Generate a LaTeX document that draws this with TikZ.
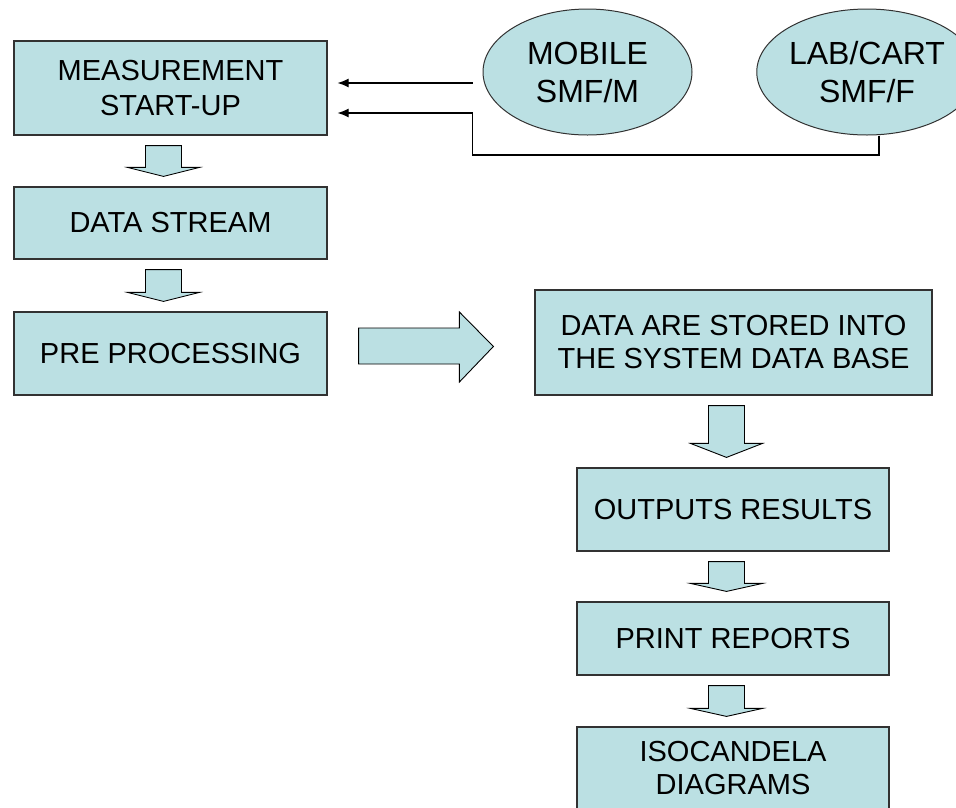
\documentclass[tikz,border=0pt]{standalone}
\usepackage{fontspec}
\setmainfont{Liberation Sans}
\usetikzlibrary{shapes.geometric,calc,arrows.meta}
\definecolor{boxfill}{RGB}{187,224,227}
\definecolor{boxline}{RGB}{50,50,50}
\newcommand\blkdown[4]{%
  \path[blk] let \p1=($(#1.south)+(#3,0)$), \p2=(#2.north) in
   ({\x1-18pt},{\y1-10pt}) -- ({\x1+18pt},{\y1-10pt}) --
   ({\x1+18pt},{\y2+10pt+#4pt}) -- ({\x1+36pt},{\y2+10pt+#4pt}) --
   ({\x1},{\y2+10pt}) -- ({\x1-36pt},{\y2+10pt+#4pt}) --
   ({\x1-18pt},{\y2+10pt+#4pt}) -- cycle;}
\begin{document}
\begin{tikzpicture}[x=1pt,y=-1pt,
  box/.style={rectangle,draw=boxline,fill=boxfill,line width=1.2pt,inner sep=0pt,
    align=center,font=\fontsize{29}{33}\selectfont},
  oval/.style={ellipse,draw=boxline,fill=boxfill,line width=1pt,inner sep=0pt,
    align=center,font=\fontsize{32}{38}\selectfont},
  blk/.style={draw=black,fill=boxfill,line width=0.9pt,line join=miter},
  con/.style={draw=black,line width=1.1pt,-{Latex[length=11pt,width=9pt]}},
]
\useasboundingbox (0,0) rectangle (956,807);

\node[box,minimum width=313pt,minimum height=94pt,font=\fontsize{29}{35}\selectfont] (ms) at (170.5,88) {MEASUREMENT\\START-UP};
\node[box,minimum width=313pt,minimum height=72pt] (ds) at (170.5,223) {DATA STREAM};
\node[box,minimum width=313pt,minimum height=83pt] (pp) at (170.5,353.5) {PRE PROCESSING};
\node[box,minimum width=397pt,minimum height=105pt] (db) at (733.5,342.5) {DATA ARE STORED INTO\\THE SYSTEM DATA BASE};
\node[box,minimum width=312pt,minimum height=83pt] (or) at (733,509.5) {OUTPUTS RESULTS};
\node[box,minimum width=312pt,minimum height=73pt] (pr) at (733,638.5) {PRINT REPORTS};
\node[box,minimum width=312pt,minimum height=82pt] (iso) at (733,768) {ISOCANDELA\\DIAGRAMS};

\node[oval,minimum width=209pt,minimum height=126pt] (mob) at (587.5,72) {MOBILE\\SMF/M};
\node[oval,minimum width=208pt,minimum height=126pt] (lab) at (867,72) {LAB/CART\\SMF/F};

\coordinate (a1) at ($(mob.west)+(-10,11)$);
\coordinate (c2) at ($(a1)+(0,30)$);
\coordinate (c1) at ($(a1)+(0,72)$);
\draw[con] (a1) -- ([xshift=10pt]ms.east |- a1);
\draw[con] ([xshift=12pt]lab.south) |- (c1) -- (c2) -- ([xshift=10pt]ms.east |- c2);

\blkdown{ms}{ds}{-7}{9}
\blkdown{ds}{pp}{-7}{9}
\blkdown{db}{or}{-7}{14}
\blkdown{or}{pr}{-6.5}{8}
\blkdown{pr}{iso}{-6.5}{8}

\path[blk] let \p1=(pp.east), \p2=(db.west) in
  ({\x1+31pt},-328pt) -- ({\x2-75pt},-328pt) -- ({\x2-75pt},-312pt) --
  ({\x2-41pt},-346.5pt) -- ({\x2-75pt},-382pt) -- ({\x2-75pt},-364pt) --
  ({\x1+31pt},-364pt) -- cycle;
\end{tikzpicture}
\end{document}
